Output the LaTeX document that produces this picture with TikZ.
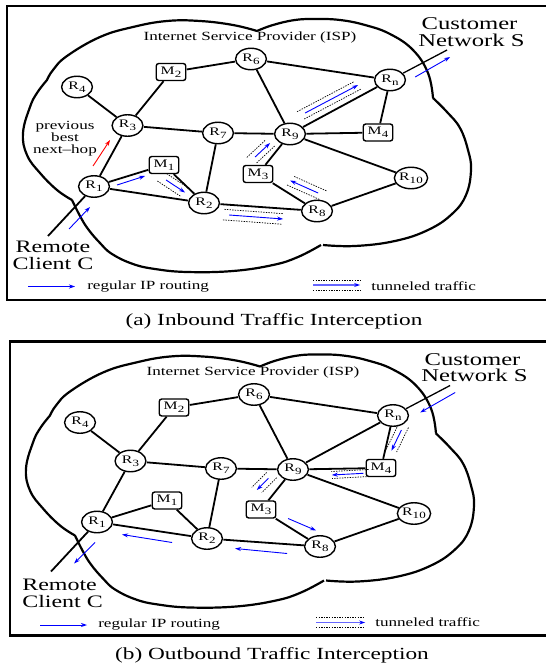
\documentclass[tikz,border=0pt]{standalone}
\usepackage{fontspec}
\setmainfont{Liberation Serif}
\usetikzlibrary{calc,arrows.meta,shapes.geometric}

\newcommand{\nlbl}[2]{#1\raisebox{-0.55ex}{\fontsize{9.5}{9.5}\selectfont #2}}

\tikzset{
  router/.style={ellipse, draw, line width=1.4pt, fill=white, minimum width=22.5pt, minimum height=21.5pt, inner sep=0pt, font=\fontsize{11.5}{11.5}\selectfont},
  mbox/.style={rectangle, rounded corners=2.5pt, draw, line width=1.4pt, fill=white, minimum width=21.5pt, minimum height=17pt, inner sep=0pt, font=\fontsize{11.5}{11.5}\selectfont},
  netlink/.style={line width=1.8pt},
  extlink/.style={line width=1.3pt},
  cloudline/.style={line width=2.2pt, line join=round},
  frameline/.style={line width=2.7pt},
  regarrow/.style={blue, line width=0.9pt, -{Stealth[length=6pt, width=4pt]}},
  redarrow/.style={red, line width=0.9pt, -{Stealth[length=6pt, width=4pt]}},
  tunarrow/.style={blue, line width=0.9pt, -{Stealth[length=6pt, width=4pt]}},
  legtun/.style={blue!60, line width=1.8pt, -{Stealth[length=6pt, width=4pt, color=blue]}},
  tundot/.style={line width=0.7pt, dash pattern=on 1.4pt off 1.2pt},
  bigtext/.style={font=\fontsize{18}{16}\selectfont, inner sep=0pt},
  clienttext/.style={font=\fontsize{17.5}{17}\selectfont},
  smalltext/.style={font=\fontsize{12.5}{12}\selectfont},
  captext/.style={font=\fontsize{17}{17}\selectfont},
}

% tunneled traffic: blue arrow between two dotted lines
\newcommand{\tunnel}[3][5pt]{%
  \draw[tundot] ($(#2)!-4pt!(#3)!#1!90:(#3)$) -- ($(#3)!0pt!(#2)!#1!-90:(#2)$);
  \draw[tundot] ($(#2)!-4pt!(#3)!#1!-90:(#3)$) -- ($(#3)!0pt!(#2)!#1!90:(#2)$);
  \draw[tunarrow] (#2) -- (#3);}

% the ISP network, its cloud and frame
\newcommand{\ispnet}[1]{%
  \draw[frameline] (552,6) -- (7,6) -- (7,300) -- (552,300);
  \draw[cloudline]
    plot[smooth, tension=0.7] coordinates {(47,80) (53,70) (67,56) (100,37) (133,27) (167,21) (200,21) (233,25) (257,31)}
    plot[smooth, tension=0.7] coordinates {(257,31) (273,25) (295,20) (316,19) (340,20) (365,25) (390,34) (413,50) (428,73) (433,98)}
    plot[smooth, tension=0.7] coordinates {(433,98) (447,112) (460,128) (468,150) (471,170) (466,195) (452,214) (428,230) (395,241) (355,246) (323,245)}
    plot[smooth, tension=0.7] coordinates {(321,245) (298,257) (273,265) (233,271) (187,272) (155,269) (133,264) (112,254) (100,243) (88,229) (80,216) (72,200)}
    plot[smooth, tension=0.7] coordinates {(72,200) (57,190) (40,173) (27,155) (23,133) (30,107) (37,93) (47,80)};
  \node[smalltext] (#1isp) at (250,37) {Internet Service Provider (ISP)};
  \node[bigtext] (#1cust) at (469.5,24) {Customer};
  \node[bigtext] (#1netw) at (471.5,40) {Network S};
  \node[router] (#1R4) at (77,87) {\nlbl{R}{4}};
  \node[mbox] (#1M2) at (171,72) {\nlbl{M}{2}};
  \node[router] (#1R6) at (251,59) {\nlbl{R}{6}};
  \node[router] (#1R3) at (127.5,125.5) {\nlbl{R}{3}};
  \node[router] (#1R7) at (218,133) {\nlbl{R}{7}};
  \node[router] (#1Rn) at (390,80) {\nlbl{R}{n}};
  \node[router] (#1R9) at (290,134) {\nlbl{R}{9}};
  \node[mbox] (#1M4) at (378,132.5) {\nlbl{M}{4}};
  \node[mbox] (#1M1) at (164,165) {\nlbl{M}{1}};
  \node[router] (#1R1) at (94,186.5) {\nlbl{R}{1}};
  \node[router] (#1R2) at (204,203) {\nlbl{R}{2}};
  \node[mbox] (#1M3) at (258,174) {\nlbl{M}{3}};
  \node[router] (#1R8) at (317,211) {\nlbl{R}{8}};
  \node[router] (#1R10) at (411,178) {\nlbl{R}{10}};
  \coordinate (#1C) at (48,236);
  \coordinate (#1S) at (447,50);
  \draw[netlink] (#1R4) -- (#1R3);
  \draw[netlink] (#1R3) -- (#1M2);
  \draw[netlink] (#1M2) -- (#1R6);
  \draw[netlink] (#1R6) -- (#1Rn);
  \draw[netlink] (#1R6) -- (#1R9);
  \draw[netlink] (#1R3) -- (#1R7);
  \draw[netlink] (#1R7) -- (#1R9);
  \draw[netlink] (#1R3) -- (#1R1);
  \draw[netlink] (#1R1) -- (#1C);
  \draw[netlink] (#1R1) -- (#1M1);
  \draw[netlink] (#1R1) -- (#1R2);
  \draw[netlink] (#1M1) -- (#1R2);
  \draw[netlink] (#1R7) -- (#1R2);
  \draw[netlink] (#1R9) -- (#1Rn);
  \draw[netlink] (#1Rn) -- (#1M4);
  \draw[netlink] (#1R9) -- (#1M4);
  \draw[netlink] (#1R9) -- (#1M3);
  \draw[netlink] (#1R9) -- (#1R10);
  \draw[netlink] (#1M3) -- (#1R8);
  \draw[netlink] (#1R2) -- (#1R8);
  \draw[netlink] (#1R8) -- (#1R10);
  \draw[extlink] (#1Rn) -- (#1S);
}

\begin{document}
\begin{tikzpicture}[x=0.729927pt, y=-1pt, xscale=1.37, every node/.style={transform shape}]
\useasboundingbox (0,0) rectangle (546,666);

% ---------------- panel (a) ----------------
\ispnet{a}
\node[clienttext, align=center] (aclient) at (53,255) {Remote\\Client C};
\node[smalltext, align=center] (aprev) at (65,139) {previous\\best\\next\textendash hop};

\coordinate (ar1s) at ($(aR1)+(-25,42.5)$);  \coordinate (ar1e) at ($(aR1)+(-4,20.5)$);
\draw[regarrow] (ar1s) -- (ar1e);
\coordinate (ar2s) at ($(aR1)+(23,-1.5)$);   \coordinate (ar2e) at ($(aM1)+(-19,11)$);
\draw[regarrow] (ar2s) -- (ar2e);
\coordinate (ar3s) at ($(aRn)+(25,-3)$);     \coordinate (ar3e) at ($(aRn)+(60,-23)$);
\draw[regarrow] (ar3s) -- (ar3e);
\coordinate (ards) at ($(aR1)+(-1,-20.5)$);  \coordinate (arde) at ($(aR3)+(-17.5,14.5)$);
\draw[redarrow] (ards) -- (arde);

\coordinate (at1s) at ($(aM1)+(2,15)$);      \coordinate (at1e) at ($(aR2)+(-19,-10.5)$);
\tunnel{at1s}{at1e}
\coordinate (at2s) at ($(aR2)+(25,12)$);     \coordinate (at2e) at ($(aR8)+(-34,8)$);
\tunnel[5.3pt]{at2s}{at2e}
\coordinate (at3s) at ($(aR8)+(1,-18)$);     \coordinate (at3e) at ($(aM3)+(32,6.5)$);
\tunnel{at3s}{at3e}
\coordinate (at4s) at ($(aM3)+(-3,-17)$);    \coordinate (at4e) at ($(aR9)+(-20,9)$);
\tunnel[4.5pt]{at4s}{at4e}
\coordinate (at5s) at ($(aR9)+(15,-21)$);    \coordinate (at5e) at ($(aRn)+(-32,5)$);
\tunnel[4.5pt]{at5s}{at5e}

% legend (a)
\coordinate (alg1s) at (28,286.5); \coordinate (alg1e) at (75,286.5);
\draw[regarrow] (alg1s) -- (alg1e);
\node[smalltext, anchor=west, inner sep=0pt] (alg1t) at (87,286.5) {regular IP routing};
\coordinate (alg2s) at (313,285); \coordinate (alg2e) at (360,285);
\draw[tundot] ($(alg2s)+(0,-5)$) -- ($(alg2e)+(0,-5)$);
\draw[tundot] ($(alg2s)+(0,5)$) -- ($(alg2e)+(0,5)$);
\draw[legtun] (alg2s) -- (alg2e);
\node[smalltext, anchor=west, inner sep=0pt] (alg2t) at (371,286) {tunneled traffic};

\node[captext] (acap) at (274,321) {(a) Inbound Traffic Interception};

% ---------------- panel (b) ----------------
\begin{scope}[shift={(3,335.5)}]
\ispnet{b}
\end{scope}
\node[clienttext, align=left, anchor=west, inner sep=0pt] (bclient) at (22,593) {Remote\\Client C};

\coordinate (br1s) at ($(bRn)+(62,-23)$);    \coordinate (br1e) at ($(bRn)+(27,-3)$);
\draw[regarrow] (br1s) -- (br1e);
\coordinate (br2s) at ($(bM3)+(27,9)$);      \coordinate (br2e) at ($(bR8)+(-4,-16)$);
\draw[regarrow] (br2s) -- (br2e);
\coordinate (br3s) at ($(bR8)+(-33,7)$);     \coordinate (br3e) at ($(bR2)+(28,10)$);
\draw[regarrow] (br3s) -- (br3e);
\coordinate (br4s) at ($(bR2)+(-35,4)$);     \coordinate (br4e) at ($(bR1)+(25,12.5)$);
\draw[regarrow] (br4s) -- (br4e);
\coordinate (br5s) at ($(bR1)+(-2,20.5)$);   \coordinate (br5e) at ($(bR1)+(-23,41.5)$);
\draw[regarrow] (br5s) -- (br5e);

\coordinate (bt1s) at ($(bRn)+(8.3,14.5)$);  \coordinate (bt1e) at ($(bM4)+(10.3,-17.3)$);
\tunnel[4pt]{bt1s}{bt1e}
\coordinate (bt2s) at ($(bM4)+(-17.7,5.3)$); \coordinate (bt2e) at ($(bR9)+(38.7,5.5)$);
\tunnel[3.5pt]{bt2s}{bt2e}
\coordinate (bt3s) at ($(bR9)+(-24.7,8.8)$); \coordinate (bt3e) at ($(bM3)+(-4.3,-19.5)$);
\tunnel[4.5pt]{bt3s}{bt3e}

% legend (b)
\coordinate (blg1s) at (40,625); \coordinate (blg1e) at (87,625);
\draw[regarrow] (blg1s) -- (blg1e);
\node[smalltext, anchor=west, inner sep=0pt] (blg1t) at (98,625) {regular IP routing};
\coordinate (blg2s) at (316,622.5); \coordinate (blg2e) at (365,622.5);
\draw[tundot] ($(blg2s)+(0,-5)$) -- ($(blg2e)+(0,-5)$);
\draw[tundot] ($(blg2s)+(0,5)$) -- ($(blg2e)+(0,5)$);
\draw[legtun] (blg2s) -- (blg2e);
\node[smalltext, anchor=west, inner sep=0pt] (blg2t) at (375,622.5) {tunneled traffic};

\node[captext] (bcap) at (272,655) {(b) Outbound Traffic Interception};
\end{tikzpicture}
\end{document}
